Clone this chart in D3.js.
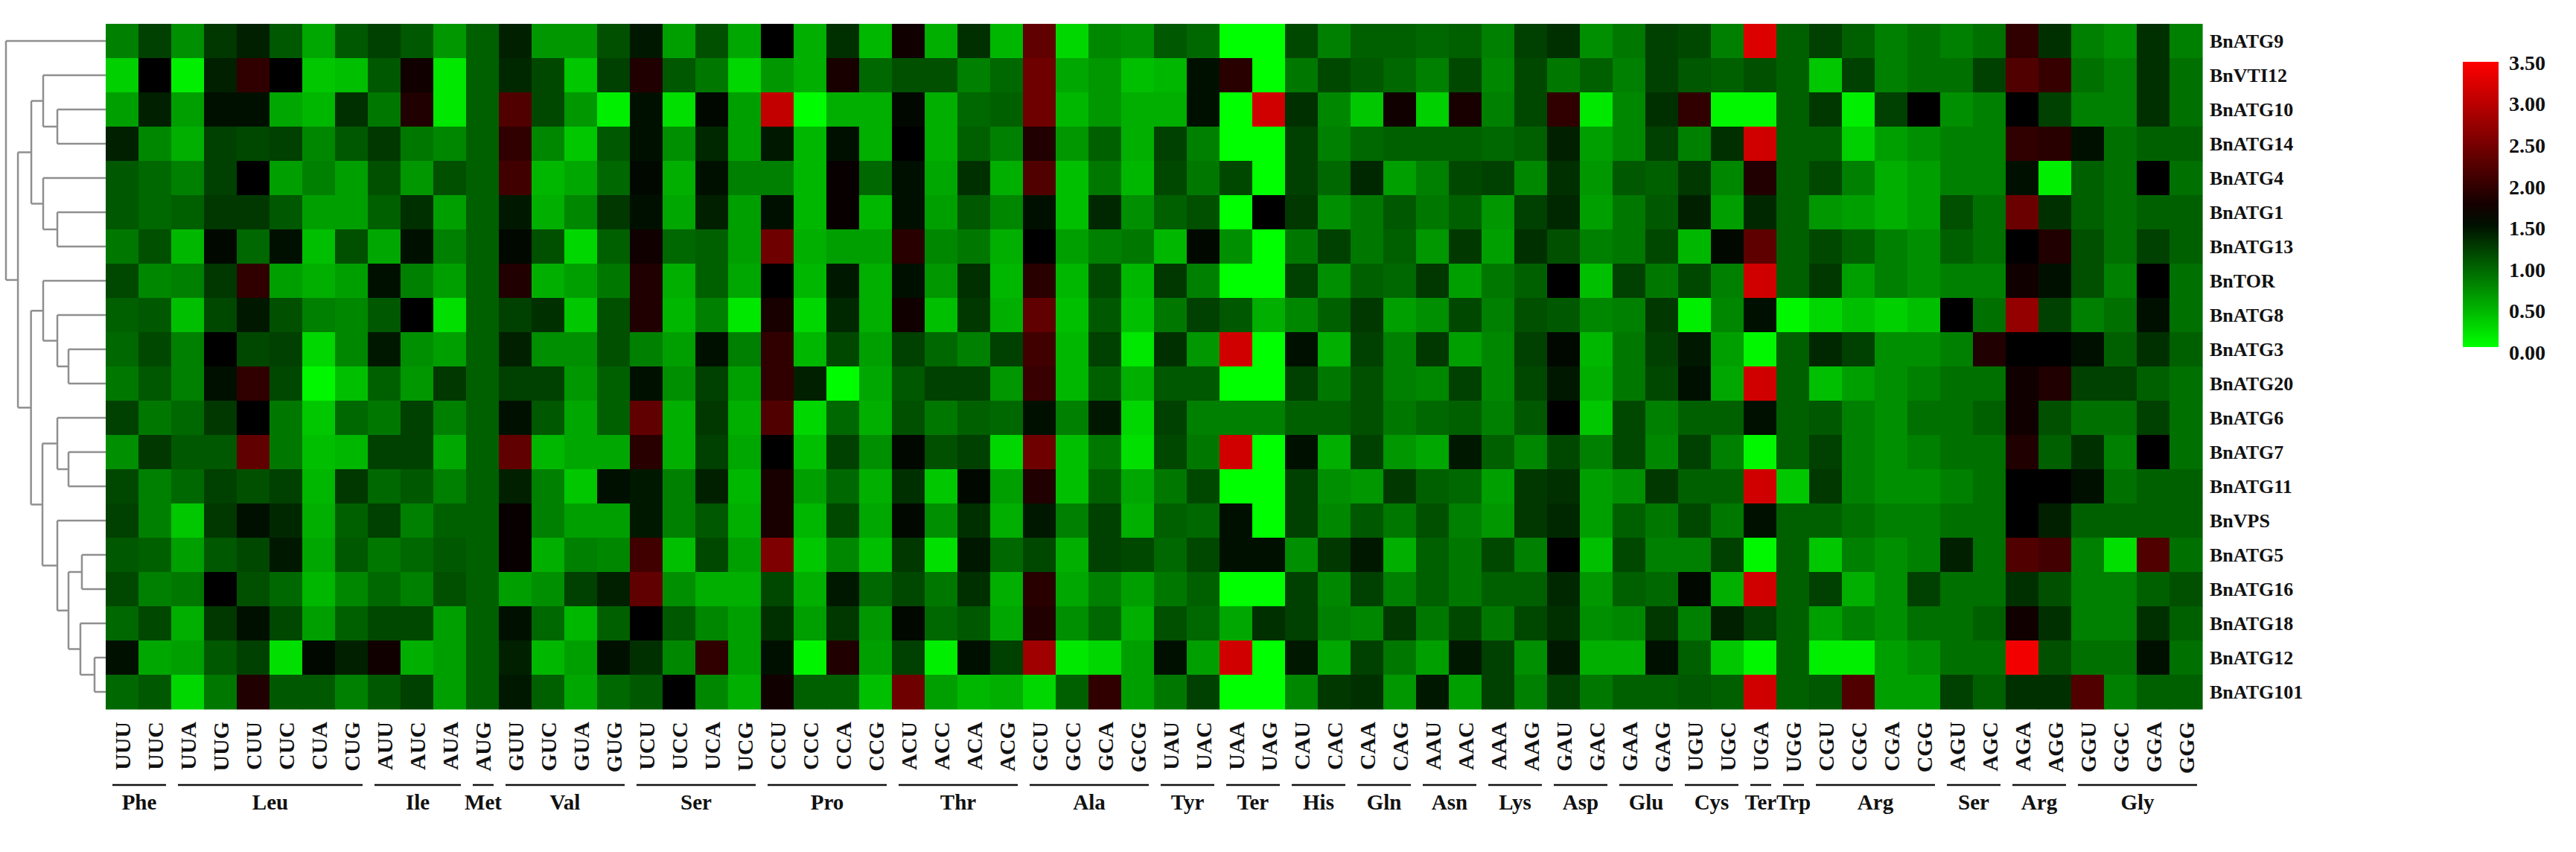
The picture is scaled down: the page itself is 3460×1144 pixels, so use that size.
<!DOCTYPE html>
<html><head><meta charset="utf-8">
<script src="https://cdn.jsdelivr.net/npm/d3@7"></script>
<style>html,body{margin:0;padding:0;background:#fff;} svg{display:block;}</style>
</head><body>
<svg id="chart" width="3460" height="1144"></svg>
<script>
const genes = ["BnATG9","BnVTI12","BnATG10","BnATG14","BnATG4","BnATG1","BnATG13","BnTOR","BnATG8","BnATG3","BnATG20","BnATG6","BnATG7","BnATG11","BnVPS","BnATG5","BnATG16","BnATG18","BnATG12","BnATG101"];
const codons = ["UUU","UUC","UUA","UUG","CUU","CUC","CUA","CUG","AUU","AUC","AUA","AUG","GUU","GUC","GUA","GUG","UCU","UCC","UCA","UCG","CCU","CCC","CCA","CCG","ACU","ACC","ACA","ACG","GCU","GCC","GCA","GCG","UAU","UAC","UAA","UAG","CAU","CAC","CAA","CAG","AAU","AAC","AAA","AAG","GAU","GAC","GAA","GAG","UGU","UGC","UGA","UGG","CGU","CGC","CGA","CGG","AGU","AGC","AGA","AGG","GGU","GGC","GGA","GGG"];
const aminoAcids = ["Phe","Leu","Ile","Met","Val","Ser","Pro","Thr","Ala","Tyr","Ter","His","Gln","Asn","Lys","Asp","Glu","Cys","Ter","Trp","Arg","Ser","Arg","Gly"];
const codonCounts = [2,6,3,1,4,4,4,4,4,2,2,2,2,2,2,2,2,2,1,1,4,2,2,4];
const legendTicks = [0,0.5,1,1.5,2,2.5,3,3.5];

// RSCU values per gene (64 codons, order as in `codons`)
const vBnATG9   = [0.8,1.2,0.7,1.25,1.4,1.05,0.55,1.05,1.2,1.05,0.65,1.0, 1.4,0.65,0.65,1.1,1.45,0.6,1.1,0.55,1.6,0.5,1.3,0.45, 1.72,0.5,1.3,0.45,2.32,0.25,0.75,0.7,1.05,0.95,0.0,0.0, 1.15,0.8,1.0,1.0,0.95,1.0,0.8,1.2,1.3,0.7,0.85,1.2, 1.15,0.8,3.25,1.0,1.2, 1.0,0.8,0.9,0.8,0.9,1.96,1.3,0.8,0.7,1.3,0.8];
const vBnVTI12  = [0.3,1.6,0.1,1.4,1.96,1.6,0.35,0.4,1.05,1.72,0.15,1.0, 1.35,1.15,0.35,1.2,1.84,1.05,0.85,0.25,0.65,0.5,1.78,0.95, 1.1,1.1,0.8,0.95,2.43,0.55,0.65,0.4,0.45,1.5,1.9,0.0, 0.85,1.15,1.05,0.95,0.8,1.15,0.75,1.15,0.85,1.0,0.8,1.2, 1.05,1.0,1.1,1.0,0.35, 1.2,0.8,0.9,0.9,1.2,2.2,2.0,0.9,0.8,1.3,0.9];
const vBnATG10  = [0.6,1.4,0.6,1.5,1.5,0.55,0.45,1.3,0.85,1.84,0.15,1.0, 2.2,1.15,0.65,0.1,1.5,0.2,1.55,0.6,3.05,0.02,0.5,0.5, 1.55,0.5,0.95,1.0,2.43,0.45,0.65,0.5,0.5,1.5,0.0,3.15, 1.3,0.75,0.35,1.72,0.3,1.78,0.8,1.15,1.96,0.15,0.75,1.3, 1.96,0.05,0.05,1.0,1.25, 0.1,1.2,1.6,0.7,0.8,1.6,1.2,0.8,0.8,1.3,0.9];
const vBnATG14  = [1.4,0.75,0.5,1.2,1.15,1.2,0.75,1.05,1.25,0.85,0.75,1.0, 1.96,0.75,0.35,1.05,1.5,0.7,1.35,0.6,1.45,0.45,1.5,0.5, 1.6,0.5,1.0,0.8,1.84,0.65,1.0,0.5,1.2,0.8,0.0,0.0, 1.2,0.8,0.95,1.0,1.0,1.0,0.95,1.0,1.4,0.6,0.75,1.2, 0.8,1.3,3.15,1.0,1.0, 0.3,0.6,0.7,0.8,0.8,1.96,1.9,1.5,0.9,1.0,1.0];
const vBnATG4   = [1.05,0.95,0.8,1.2,1.6,0.6,0.8,0.6,1.1,0.65,1.1,1.0, 2.08,0.45,0.55,0.95,1.55,0.5,1.5,0.8,0.8,0.45,1.66,0.95, 1.5,0.55,1.3,0.5,2.2,0.4,0.85,0.45,1.15,0.85,1.15,0.0, 1.2,0.95,1.35,0.6,0.8,1.15,1.2,0.75,1.3,0.65,1.05,1.0, 1.25,0.75,1.84,1.0,1.15, 0.8,0.5,0.6,0.8,0.8,1.5,0.1,1.0,0.9,1.6,0.9];
const vBnATG1   = [1.05,0.95,1.0,1.25,1.25,1.05,0.6,0.6,1.0,1.3,0.6,1.0, 1.45,0.5,0.75,1.25,1.5,0.55,1.4,0.6,1.5,0.45,1.66,0.45, 1.5,0.6,1.05,0.75,1.5,0.4,1.35,0.7,1.0,1.1,0.0,1.6, 1.25,0.7,0.85,1.05,0.85,1.0,0.65,1.2,1.35,0.6,0.85,1.05, 1.4,0.6,1.35,1.0,0.65, 0.6,0.5,0.6,1.1,0.9,2.4,1.3,1.0,0.9,1.0,1.0];
const vBnATG13  = [0.85,1.1,0.45,1.55,0.95,1.5,0.4,1.1,0.55,1.5,0.8,1.0, 1.55,1.1,0.25,1.0,1.72,0.95,1.0,0.6,2.43,0.5,0.6,0.6, 1.9,0.75,0.85,0.5,1.6,0.6,0.8,0.85,0.45,1.55,0.7,0.0, 0.85,1.2,0.85,1.0,0.65,1.25,0.6,1.3,1.1,0.8,0.85,1.15, 0.45,1.55,2.3,1.0,1.15, 1.0,0.8,0.7,1.0,0.9,1.6,1.84,1.1,0.9,1.2,1.0];
const vBnTOR    = [1.15,0.75,0.8,1.25,1.96,0.6,0.5,0.6,1.5,0.8,0.6,1.0, 1.84,0.5,0.6,0.85,1.84,0.5,1.0,0.55,1.6,0.45,1.45,0.5, 1.5,0.65,1.3,0.45,1.9,0.45,1.15,0.45,1.25,0.8,0.0,0.0, 1.2,0.7,1.0,0.95,1.25,0.6,0.85,1.0,1.6,0.4,1.2,0.85, 1.15,0.8,3.15,1.0,1.25, 0.6,0.8,0.7,0.8,0.8,1.72,1.5,1.1,0.8,1.6,0.9];
const vBnATG8   = [1.0,1.05,0.4,1.15,1.45,1.1,0.8,0.75,1.05,1.6,0.2,1.0, 1.2,1.3,0.35,1.1,1.84,0.45,0.8,0.15,1.78,0.25,1.35,0.5, 1.72,0.4,1.25,0.5,2.32,0.4,1.05,0.4,0.85,1.2,1.05,0.5, 0.75,1.0,1.25,0.6,0.7,1.15,0.8,1.1,1.05,0.75,0.8,1.25, 0.1,0.75,1.5,0.05,0.25, 0.4,0.3,0.4,1.6,0.9,2.7,1.2,0.8,0.9,1.5,0.9];
const vBnATG3   = [0.95,1.15,0.8,1.6,1.15,1.2,0.25,0.75,1.45,0.7,0.6,1.0, 1.4,0.7,0.7,1.1,0.8,0.6,1.5,0.8,1.96,0.45,1.15,0.6, 1.2,0.95,0.8,1.2,2.08,0.45,1.2,0.15,1.3,0.65,3.15,0.0, 1.5,0.5,1.2,0.8,1.25,0.6,0.75,1.2,1.55,0.45,0.85,1.2, 1.45,0.6,0.05,1.0,1.35, 1.2,0.7,0.7,0.8,1.84,1.6,1.6,1.5,1.0,1.3,1.0];
const vBnATG20  = [0.85,1.05,0.8,1.5,1.96,1.15,0.05,0.4,1.0,0.65,1.25,1.0, 1.2,1.2,0.65,1.0,1.5,0.7,1.2,0.6,1.96,1.4,0.02,0.55, 1.05,1.2,1.2,0.65,2.02,0.45,1.0,0.5,1.05,1.05,0.0,0.0, 1.2,0.85,1.1,0.8,0.75,1.2,0.75,1.15,1.45,0.5,0.85,1.15, 1.5,0.55,3.15,1.0,0.4, 0.6,0.7,0.8,0.9,0.9,1.72,1.84,1.2,1.2,1.0,0.9];
const vBnATG6   = [1.2,0.85,0.95,1.25,1.6,0.85,0.35,0.95,0.85,1.2,0.8,1.0, 1.5,1.05,0.55,1.0,2.32,0.5,1.25,0.5,2.2,0.25,0.95,0.5, 1.1,0.85,1.0,0.95,1.5,0.8,1.45,0.25,1.2,0.8,0.8,0.8, 1.0,1.0,1.1,0.85,0.95,1.0,0.8,1.05,1.6,0.35,1.15,0.8, 1.0,1.0,1.5,1.0,1.05, 0.8,0.7,0.9,0.9,1.0,1.72,1.1,0.9,0.9,1.2,0.9];
const vBnATG7   = [0.7,1.25,1.05,1.05,2.32,0.85,0.4,0.45,1.2,1.2,0.55,1.0, 2.32,0.45,0.55,0.55,1.9,0.5,1.2,0.55,1.6,0.4,1.2,0.7, 1.55,1.1,1.2,0.25,2.43,0.4,0.85,0.2,1.15,0.85,3.15,0.0, 1.5,0.5,1.2,0.65,0.55,1.45,1.0,0.75,1.15,0.8,1.15,0.75, 1.2,0.8,0.05,1.0,1.2, 0.8,0.7,0.8,0.9,0.9,1.84,1.0,1.3,0.8,1.6,0.9];
const vBnATG11  = [1.15,0.8,0.95,1.2,1.1,1.2,0.45,1.25,0.95,1.05,0.8,1.0, 1.4,0.8,0.35,1.5,1.45,0.8,1.4,0.45,1.78,0.6,0.95,0.5, 1.3,0.35,1.55,0.6,1.84,0.4,1.0,0.55,0.85,1.15,0.0,0.0, 1.2,0.7,0.65,1.25,1.0,0.95,0.6,1.25,1.3,0.6,0.7,1.25, 1.0,1.0,3.15,0.35,1.25, 0.8,0.7,0.7,0.8,0.9,1.6,1.6,1.5,0.9,1.0,1.0];
const vBnVPS    = [1.2,0.8,0.35,1.25,1.5,1.35,0.5,1.0,1.2,0.8,1.0,1.0, 1.66,0.8,0.6,0.6,1.45,0.8,1.05,0.5,1.78,0.45,1.15,0.55, 1.55,0.7,1.3,0.5,1.45,0.8,1.2,0.5,1.0,0.95,1.5,0.0, 1.2,0.75,1.05,0.85,1.1,0.8,0.65,1.25,1.35,0.6,1.0,0.85, 1.15,0.85,1.5,1.0,1.0, 0.9,0.8,0.8,0.9,0.9,1.6,1.4,1.0,1.0,1.0,1.0];
const vBnATG5   = [1.05,1.0,0.6,1.05,1.15,1.45,0.55,1.05,0.85,0.95,1.05,1.0, 1.66,0.5,0.8,0.75,2.08,0.4,1.15,0.6,2.55,0.35,0.75,0.4, 1.25,0.2,1.45,0.95,1.15,0.5,1.2,1.15,0.95,1.15,1.5,1.5, 0.7,1.25,1.45,0.5,1.0,0.85,1.15,0.8,1.6,0.4,1.15,0.8, 0.8,1.2,0.05,1.0,0.35, 0.8,0.7,0.8,1.4,0.9,2.2,2.1,0.8,0.2,2.2,0.9];
const vBnATG16  = [1.15,0.8,0.85,1.6,1.1,0.95,0.45,0.75,0.95,0.8,1.1,1.0, 0.6,0.7,1.2,1.4,2.32,0.7,0.5,0.5,1.15,0.5,1.45,0.95, 1.15,0.85,1.3,0.5,1.9,0.55,0.8,0.6,0.85,1.0,0.0,0.0, 1.2,0.75,1.2,0.8,1.0,0.85,1.0,1.0,1.35,0.65,1.0,0.95, 1.55,0.5,3.15,1.0,1.2, 0.5,0.7,1.2,0.9,0.9,1.3,1.1,0.8,0.8,1.0,1.1];
const vBnATG18  = [0.95,1.15,0.5,1.25,1.5,1.15,0.6,1.0,1.15,1.15,0.6,1.0, 1.5,0.95,0.45,1.0,1.6,1.05,0.75,0.6,1.3,0.6,1.25,0.65, 1.55,0.95,1.05,0.55,1.84,0.7,0.95,0.5,1.1,0.95,0.55,1.3, 1.2,0.8,0.75,1.25,0.85,1.15,0.85,1.15,1.3,0.7,0.75,1.25, 0.8,1.4,1.2,1.0,0.6, 0.8,0.7,0.9,0.9,1.0,1.72,1.3,0.8,0.8,1.3,1.0];
const vBnATG12  = [1.5,0.55,0.6,1.05,1.2,0.2,1.55,1.4,1.72,0.5,0.6,1.0, 1.4,0.45,0.6,1.5,1.3,0.75,1.96,0.6,1.5,0.07,1.84,0.6, 1.2,0.1,1.5,1.2,2.79,0.15,0.25,0.6,1.5,0.6,3.15,0.0, 1.45,0.55,1.2,0.85,0.6,1.45,1.2,0.7,1.45,0.5,0.5,1.5, 1.0,0.35,0.05,1.0,0.1, 0.1,0.6,0.7,0.9,0.9,3.4,1.1,0.9,0.9,1.5,0.9];
const vBnATG101 = [0.95,1.05,0.25,0.85,1.84,1.05,1.05,0.8,1.05,1.2,0.6,1.0, 1.45,1.0,0.55,0.95,1.05,1.6,0.75,0.5,1.72,1.0,1.0,0.4, 2.43,0.6,0.45,0.5,0.25,1.0,1.96,0.6,0.85,1.2,0.0,0.0, 0.75,1.25,1.3,0.65,1.45,0.6,1.2,0.8,1.2,0.85,1.0,1.0, 1.05,1.0,3.15,1.0,1.05, 2.2,0.6,0.6,1.2,1.0,1.3,1.3,2.2,0.8,1.0,1.0];

const matrix = [vBnATG9,vBnVTI12,vBnATG10,vBnATG14,vBnATG4,vBnATG1,vBnATG13,vBnTOR,vBnATG8,vBnATG3,vBnATG20,vBnATG6,vBnATG7,vBnATG11,vBnVPS,vBnATG5,vBnATG16,vBnATG18,vBnATG12,vBnATG101];

// hierarchical clustering of the genes (merge heights, relative)
const tree = {h:1.0, children:[{name:"BnATG9"},
  {h:0.88, children:[
    {h:0.746, children:[
      {h:0.627, children:[{name:"BnVTI12"},{h:0.485, children:[{name:"BnATG10"},{name:"BnATG14"}]}]},
      {h:0.627, children:[{name:"BnATG4"},{h:0.485, children:[{name:"BnATG1"},{name:"BnATG13"}]}]}
    ]},
    {h:0.749, children:[
      {h:0.627, children:[{name:"BnTOR"},{h:0.485, children:[{name:"BnATG8"},{h:0.373, children:[{name:"BnATG3"},{name:"BnATG20"}]}]}]},
      {h:0.634, children:[
        {h:0.485, children:[{name:"BnATG6"},{h:0.373, children:[{name:"BnATG7"},{name:"BnATG11"}]}]},
        {h:0.485, children:[{name:"BnVPS"},{h:0.373, children:[
          {h:0.239, children:[{name:"BnATG5"},{name:"BnATG16"}]},
          {h:0.254, children:[{name:"BnATG18"},{h:0.112, children:[{name:"BnATG12"},{name:"BnATG101"}]}]}
        ]}]}
      ]}
    ]}
  ]}
]};

const FONT = "'Liberation Serif','Times New Roman',serif";
const svg = d3.select("#chart");
svg.append("rect").attr("width",3460).attr("height",1144).attr("fill","#fff");

const x = d3.scaleBand().domain(codons).range([142, 2958]).padding(0);
const y = d3.scaleBand().domain(genes).range([32, 952]).padding(0);
const color = d3.scaleLinear().domain([0,1.6,3.5]).range(["#00ff00","#000000","#ff0000"]).clamp(true);

// cells
const cells = [];
matrix.forEach((row,i)=>row.forEach((v,j)=>cells.push({g:genes[i], c:codons[j], v})));
svg.append("g").selectAll("rect").data(cells).join("rect")
  .attr("x", d=>x(d.c)).attr("y", d=>y(d.g))
  .attr("width", x.bandwidth()+0.6).attr("height", y.bandwidth()+0.6)
  .attr("fill", d=>color(d.v));

// row labels
svg.append("g").selectAll("text").data(genes).join("text")
  .attr("x", 2968).attr("y", d=>y(d)+y.bandwidth()/2).attr("dy","0.35em")
  .attr("font-family",FONT).attr("font-weight","bold").attr("font-size",26)
  .attr("fill","#111").text(d=>d);

// codon labels (rotated)
svg.append("g").selectAll("text").data(codons).join("text")
  .attr("transform", d=>`translate(${x(d)+x.bandwidth()/2},969) rotate(-90)`)
  .attr("text-anchor","end").attr("dy","0.35em")
  .attr("font-family",FONT).attr("font-weight","bold").attr("font-size",30)
  .attr("fill","#111").text(d=>d);

// amino-acid groups
let start = 0;
const groups = aminoAcids.map((a,i)=>{const g={name:a, first:codons[start], last:codons[start+codonCounts[i]-1]}; start+=codonCounts[i]; return g;});
const gg = svg.append("g");
gg.selectAll("line").data(groups).join("line")
  .attr("x1", d=>x(d.first)+9).attr("x2", d=>x(d.last)+x.bandwidth()-7)
  .attr("y1",1054).attr("y2",1054).attr("stroke","#111").attr("stroke-width",2.5);
gg.selectAll("text").data(groups).join("text")
  .attr("x", d=>(x(d.first)+x(d.last)+x.bandwidth())/2+1).attr("y",1087)
  .attr("text-anchor","middle").attr("font-family",FONT).attr("font-weight","bold").attr("font-size",29)
  .attr("fill","#111").text(d=>d.name);

// dendrogram
const root = d3.hierarchy(tree);
const hx = d3.scaleLinear().domain([0,1]).range([142, 8]);
root.eachAfter(n=>{
  if(!n.children){ n.py = y(n.data.name)+y.bandwidth()/2; n.px = hx(0); }
  else { n.py = (n.children[0].py + n.children[n.children.length-1].py)/2; n.px = hx(n.data.h); }
});
const dg = svg.append("g").attr("stroke","#8f8f8f").attr("stroke-width",2.5).attr("fill","none");
root.each(n=>{
  if(n.children){
    dg.append("line").attr("x1",n.px).attr("x2",n.px).attr("y1",n.children[0].py).attr("y2",n.children[n.children.length-1].py);
    n.children.forEach(c=>dg.append("line").attr("x1",n.px).attr("x2",c.px).attr("y1",c.py).attr("y2",c.py));
  }
});

// legend
const ly = d3.scaleLinear().domain([0,3.5]).range([466,83]);
const lyLab = d3.scaleLinear().domain([0,3.5]).range([473,84]);
const defs = svg.append("defs");
const grad = defs.append("linearGradient").attr("id","lg").attr("x1",0).attr("y1",1).attr("x2",0).attr("y2",0);
d3.range(0,3.51,0.25).forEach(v=>grad.append("stop").attr("offset",v/3.5).attr("stop-color",color(v)));
svg.append("rect").attr("x",3308).attr("y",ly(3.5)).attr("width",48).attr("height",ly(0)-ly(3.5)).attr("fill","url(#lg)");
svg.append("g").selectAll("text").data(legendTicks).join("text")
  .attr("x",3370).attr("y",d=>lyLab(d)).attr("dy","0.35em")
  .attr("font-family",FONT).attr("font-weight","bold").attr("font-size",28)
  .attr("fill","#111").text(d=>d3.format(".2f")(d));
</script>
</body></html>
